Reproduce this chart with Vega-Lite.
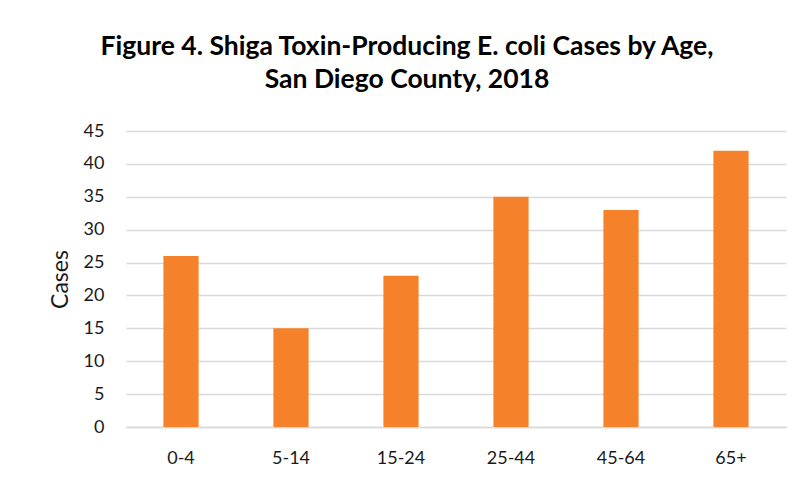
{
  "$schema": "https://vega.github.io/schema/vega-lite/v6.json",
  "autosize": "none",
  "width": 660,
  "height": 296,
  "padding": {"left": 126, "top": 131, "right": 22, "bottom": 59},
  "background": "white",
  "title": {
    "text": ["Figure 4. Shiga Toxin-Producing E. coli Cases by Age,", "San Diego County, 2018"],
    "font": "Lato",
    "fontSize": 26.5,
    "fontWeight": "bold",
    "color": "#000000",
    "anchor": "middle",
    "frame": "group",
    "dx": -49,
    "offset": 29,
    "lineHeight": 33
  },
  "data": {
    "values": [
      {"age": "0-4", "cases": 26},
      {"age": "5-14", "cases": 15},
      {"age": "15-24", "cases": 23},
      {"age": "25-44", "cases": 35},
      {"age": "45-64", "cases": 33},
      {"age": "65+", "cases": 42}
    ]
  },
  "mark": {"type": "bar", "color": "#f5822a"},
  "encoding": {
    "x": {
      "field": "age",
      "type": "nominal",
      "sort": null,
      "scale": {"paddingInner": 0.68, "paddingOuter": 0.34},
      "axis": {
        "title": null,
        "labelAngle": 0,
        "ticks": false,
        "domain": true,
        "domainColor": "#d9d9d9",
        "domainWidth": 1.5,
        "labelPadding": 22,
        "labelFont": "Lato",
        "labelFontSize": 18,
        "labelColor": "#1a1a1a"
      }
    },
    "y": {
      "field": "cases",
      "type": "quantitative",
      "scale": {"domain": [0, 45]},
      "axis": {
        "title": "Cases",
        "values": [0, 5, 10, 15, 20, 25, 30, 35, 40, 45],
        "ticks": false,
        "domain": false,
        "grid": true,
        "gridColor": "#d9d9d9",
        "gridWidth": 1.5,
        "labelPadding": 22,
        "labelFont": "Lato",
        "labelFontSize": 18,
        "labelColor": "#1a1a1a",
        "titleFont": "Lato",
        "titleFontSize": 23,
        "titleFontWeight": "normal",
        "titleColor": "#1a1a1a",
        "titlePadding": 11
      }
    }
  },
  "config": {"view": {"stroke": null}}
}
